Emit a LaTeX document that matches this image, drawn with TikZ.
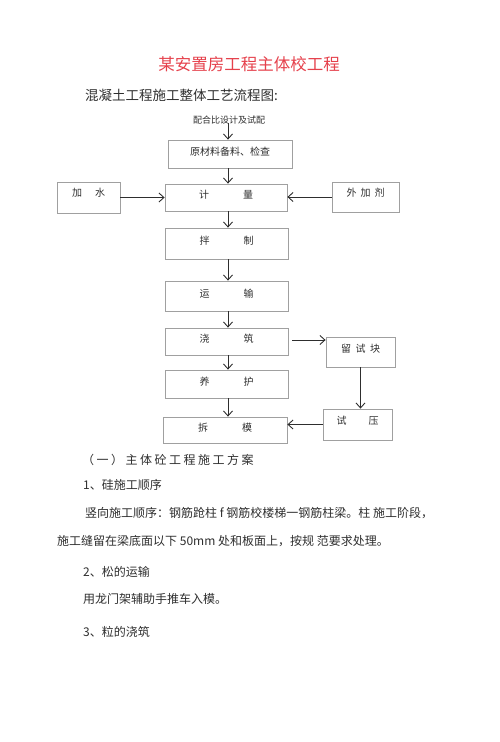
\documentclass[tikz,border=0pt]{standalone}
\usepackage{fontspec}
\setmainfont{Noto Sans CJK SC}
\usetikzlibrary{arrows.meta}
\definecolor{titlered}{HTML}{E5404B}
\definecolor{boxgray}{HTML}{A0A0A0}
\definecolor{inkgray}{HTML}{2E2E2E}
\tikzset{
  flowbox/.style={draw=boxgray, line width=0.8pt, rectangle, inner sep=0pt,
    text height=7pt, text depth=5pt, font=\fontsize{10}{12}\selectfont, text=inkgray},
  arr/.style={draw=inkgray, line width=0.9pt, -{Straight Barb[length=5pt,width=9pt]}},
  para/.style={anchor=west, inner sep=0pt, font=\fontsize{12}{14}\selectfont, text=inkgray}
}
\begin{document}
\begin{tikzpicture}[x=1pt,y=-1pt]
\useasboundingbox (0,0) rectangle (500,742);
% title
\node[inner sep=0pt, font=\fontsize{16.5}{18}\selectfont, text=titlered] (title) at (249,64) {某安置房工程主体校工程};
\node[anchor=west, inner sep=0pt, font=\fontsize{13.5}{15}\selectfont, text=inkgray] (sub) at (85,95) {混凝土工程施工整体工艺流程图:};
% flow
\node[inner sep=0pt, font=\fontsize{9}{10}\selectfont, text=inkgray] (mix) at (229,120) {配合比设计及试配};
\coordinate (ax) at (228,0);
\node[flowbox, minimum width=124pt, minimum height=28pt] (yuan) at (230,154) {原材料备料、检查};
\node[flowbox, minimum width=122pt, minimum height=27pt] (jl) at (226,197.5) {计\hspace{34pt}量};
\node[flowbox, minimum width=63pt, minimum height=31pt, text depth=9pt] (js) at (88.5,197.5) {加\hspace{13pt}水};
\node[flowbox, minimum width=67pt, minimum height=30pt, text depth=8pt] (wj) at (365.5,197) {外\hspace{4pt}加\hspace{4pt}剂};
\node[flowbox, minimum width=123pt, minimum height=31pt] (bz) at (226.5,243.5) {拌\hspace{34pt}制};
\node[flowbox, minimum width=123pt, minimum height=30pt] (ys) at (226.5,296) {运\hspace{34pt}输};
\node[flowbox, minimum width=123pt, minimum height=27pt] (jz) at (226.5,341.5) {浇\hspace{34pt}筑};
\node[flowbox, minimum width=123pt, minimum height=28pt] (yh) at (226.5,384) {养\hspace{34pt}护};
\node[flowbox, minimum width=124pt, minimum height=26pt] (cm) at (225,430) {拆\hspace{34pt}模};
\node[flowbox, minimum width=69pt, minimum height=30pt, text depth=7pt] (lk) at (360.5,352) {留\hspace{4.5pt}试\hspace{4.5pt}块};
\node[flowbox, minimum width=69pt, minimum height=31pt, text depth=7pt] (sy) at (357.5,424.5) {试\hspace{22pt}压};
% arrows
\coordinate (mixb) at ([yshift=1pt]mix.south -| ax);
\coordinate (jzr) at ([xshift=4pt,yshift=1.5pt]jz.east);
\draw[arr] (mixb) -- (yuan.north -| ax);
\draw[arr] (yuan.south -| ax) -- (jl.north -| ax);
\draw[arr] (jl.south -| ax) -- (bz.north -| ax);
\draw[arr] (bz.south -| ax) -- (ys.north -| ax);
\draw[arr] (ys.south -| ax) -- (jz.north -| ax);
\draw[arr] (jz.south -| ax) -- (yh.north -| ax);
\draw[arr] (yh.south -| ax) -- (cm.north -| ax);
\draw[arr] (js.east) -- (jl.west |- js.east);
\draw[arr] (wj.west) -- (jl.east |- wj.west);
\draw[arr] (jzr) -- (lk.west |- jzr);
\draw[arr] (lk.south) -- (lk.south |- sy.north);
\draw[arr] (sy.west) -- (cm.east |- sy.west);
% text below
\node[para] (h1) at (82,460) {（\hspace{2.5pt}一\hspace{2.5pt}）\hspace{2.5pt}主\hspace{2.5pt}体\hspace{2.5pt}砼\hspace{2.5pt}工\hspace{2.5pt}程\hspace{2.5pt}施\hspace{2.5pt}工\hspace{2.5pt}方\hspace{2.5pt}案};
\node[para] (p1) at (83,485) {1、硅施工顺序};
\node[para] (p2) at (85,513) {竖向施工顺序：钢筋跄柱 f 钢筋校楼梯一钢筋柱梁。柱 施工阶段，};
\node[para] (p3) at (57,541) {施工缝留在梁底面以下 50mm 处和板面上，按规 范要求处理。};
\node[para] (p4) at (83,572) {2、松的运输};
\node[para] (p5) at (83,599) {用龙门架辅助手推车入模。};
\node[para] (p6) at (83,632) {3、粒的浇筑};
\end{tikzpicture}
\end{document}
